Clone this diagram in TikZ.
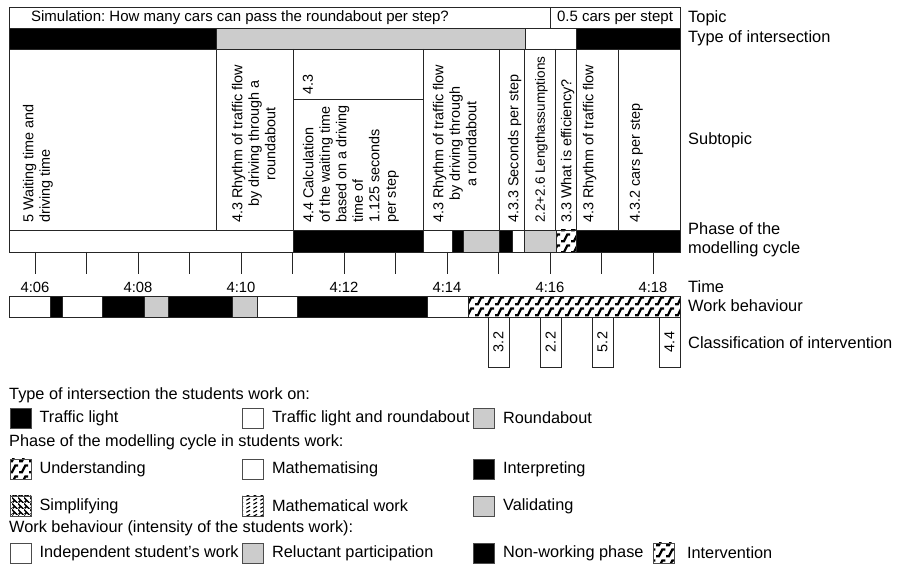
\documentclass[tikz,border=0pt]{standalone}
\usepackage{fontspec}
\setmainfont{Liberation Sans}
\usepackage{tikz}
\usetikzlibrary{patterns, positioning}
\frenchspacing

% hatch patterns used in the chart and the legend
\pgfdeclarepatternformonly{interv}{\pgfqpoint{0pt}{0pt}}{\pgfqpoint{9.5pt}{10.5pt}}{\pgfqpoint{9.5pt}{10.5pt}}{%
  \pgfsetlinewidth{2.3pt}
  \pgfpathmoveto{\pgfqpoint{0pt}{1.8pt}}
  \pgfpathlineto{\pgfqpoint{3pt}{1.8pt}}
  \pgfpathlineto{\pgfqpoint{6.5pt}{8.7pt}}
  \pgfpathlineto{\pgfqpoint{9.5pt}{8.7pt}}
  \pgfusepath{stroke}}
\pgfdeclarepatternformonly{simpl}{\pgfqpoint{0pt}{0pt}}{\pgfqpoint{6pt}{6pt}}{\pgfqpoint{6pt}{6pt}}{%
  \pgfsetlinewidth{1.6pt}
  \pgfpathmoveto{\pgfqpoint{0pt}{6pt}}
  \pgfpathlineto{\pgfqpoint{6pt}{0pt}}
  \pgfpathmoveto{\pgfqpoint{0.8pt}{0.8pt}}
  \pgfpathlineto{\pgfqpoint{2.4pt}{2.4pt}}
  \pgfusepath{stroke}}
\pgfdeclarepatternformonly{mwork}{\pgfqpoint{0pt}{0pt}}{\pgfqpoint{7pt}{4pt}}{\pgfqpoint{7pt}{4pt}}{%
  \pgfsetlinewidth{1.3pt}
  \pgfpathmoveto{\pgfqpoint{1.5pt}{0.8pt}}
  \pgfpathlineto{\pgfqpoint{5.5pt}{3.2pt}}
  \pgfusepath{stroke}}

\begin{document}
\begin{tikzpicture}[
    x=1pt, y=-1pt,
    cell/.style={draw=black!85, line width=0.8pt},
    blk/.style={cell, fill=black},
    gry/.style={cell, fill=gray!40},
    wht/.style={cell, fill=white},
    hat/.style={cell, pattern=interv},
    vtxt/.style={rotate=90, anchor=north west, inner sep=0pt, font=\fontsize{14.4}{16.5}\selectfont},
    htxt/.style={inner sep=0pt, font=\fontsize{15}{17}\selectfont},
    tlbl/.style={inner sep=0pt, font=\fontsize{14.8}{16}\selectfont},
    rlbl/.style={anchor=west, align=left, inner sep=0pt, font=\fontsize{16.4}{18.5}\selectfont},
    ibox/.style={cell, fill=white, rotate=90, minimum width=50pt, minimum height=21pt, inner sep=0pt, font=\fontsize{14.4}{16}\selectfont},
    sq/.style={draw=black!70, line width=0.8pt, minimum width=21pt, minimum height=20pt, inner sep=0pt},
    ltxt/.style={anchor=west, inner sep=0pt, font=\fontsize{16.3}{18}\selectfont}
]
\useasboundingbox (0,0) rectangle (898,569);

% --- Topic ---
\draw[cell] (9,7) rectangle (680,28);
\draw[cell] (550,7) -- (550,28);
\node[htxt] (topic) at (240,18) {Simulation: How many cars can pass the roundabout per step?};
\node[htxt] (carsstep) at (615,18) {0.5 cars per stept};

% --- Type of intersection ---
\foreach \xa/\xb/\st in {9/216/blk, 216/525/gry, 525/576/wht, 576/680/blk}
  \draw[\st] (\xa,28) rectangle (\xb,49);

% --- Subtopics ---
\draw[cell] (9,49) rectangle (680,230);
\foreach \x in {216,293,423,499,524,555,576,618}
  \draw[cell] (\x,49) -- (\x,230);
\draw[cell] (293,99) -- (423,99);

\node[vtxt, align=left] (waiting) at (22.7,223) {5 Waiting time and\\driving time};
\node[vtxt, align=center] (rhythma) at (231.7,223) {4.3 Rhythm of traffic flow\\by driving through a\\roundabout};
\node[vtxt] (sub43) at (302.7,95) {4.3};
\node[vtxt, align=left] (calc) at (302.7,223) {4.4 Calculation\\of the waiting time\\based on a driving\\time of\\1.125 seconds\\per step};
\node[vtxt, align=center] (rhythmb) at (432.7,223) {4.3 Rhythm of traffic flow\\by driving through\\a roundabout};
\node[vtxt] (seconds) at (507.7,223) {4.3.3 Seconds per step};
\node[vtxt, font=\fontsize{13.5}{16}\selectfont] (length) at (535,223) {2.2+2.6 Lengthassumptions};
\node[vtxt] (effic) at (560.7,223) {3.3 What is efficiency?};
\node[vtxt] (rhythmc) at (582.7,223) {4.3 Rhythm of traffic flow};
\node[vtxt] (cars) at (629.7,223) {4.3.2 cars per step};

% --- Phase of the modelling cycle ---
\foreach \xa/\xb/\st in {9/293/wht, 293/423/blk, 423/452/wht, 452/463/blk, 463/499/gry,
    499/512/blk, 512/524/wht, 524/556/gry, 556/576/hat, 576/680/blk}
  \draw[\st] (\xa,230) rectangle (\xb,252);

% --- Time axis ---
\foreach \k in {0,...,12}
  \draw[cell] ({35+51.5*\k},252) -- ({35+51.5*\k},274);
\foreach \k/\tm in {0/06, 2/08, 4/10, 6/12, 8/14, 10/16, 12/18}
  \node[tlbl] (time\tm) at ({35+51.5*\k},287) {4:\tm};

% --- Work behaviour ---
\foreach \xa/\xb/\st in {9/50/wht, 50/62/blk, 62/102/wht, 102/144/blk, 144/168/gry, 168/232/blk,
    232/257/gry, 257/297/wht, 297/427/blk, 427/468/wht, 468/680/hat}
  \draw[\st] (\xa,296) rectangle (\xb,317);

% --- Interventions ---
\node[ibox] (int32) at (498.5,342) {3.2};
\node[ibox] (int22) at (550.5,342) {2.2};
\node[ibox] (int52) at (602.5,342) {5.2};
\node[ibox] (int44) at (669.5,342) {4.4};

% --- Row labels (right) ---
\node[rlbl] (ltopic) at (688,18) {Topic};
\node[rlbl] (ltype) at (688,38) {Type of intersection};
\node[rlbl] (lsub) at (688,140) {Subtopic};
\node[rlbl] (lphase) at (688,240) {Phase of the\\modelling cycle};
\node[rlbl] (ltime) at (688,287) {Time};
\node[rlbl] (lwork) at (688,306) {Work behaviour};
\node[rlbl] (lclass) at (688,343) {Classification of intervention};

% --- Legend ---
\node[ltxt] (hinter) at (9,395) {Type of intersection the students work on:};
\node[sq, fill=black] (sqlight) at (20.5,418) {};
\node[ltxt, right=8pt of sqlight] (tlight) {Traffic light};
\node[sq, fill=white] (sqboth) at (253,418) {};
\node[ltxt, right=8pt of sqboth] (tboth) {Traffic light and roundabout};
\node[sq, fill=gray!40] (sqround) at (484,418) {};
\node[ltxt, right=8pt of sqround] (tround) {Roundabout};

\node[ltxt] (hphase) at (9,442) {Phase of the modelling cycle in students work:};
\node[sq, pattern=interv] (squnder) at (20.5,469) {};
\node[ltxt, right=8pt of squnder] (tunder) {Understanding};
\node[sq, fill=white] (sqmath) at (253,469) {};
\node[ltxt, right=8pt of sqmath] (tmath) {Mathematising};
\node[sq, fill=black] (sqinterp) at (484,469) {};
\node[ltxt, right=8pt of sqinterp] (tinterp) {Interpreting};
\node[sq, pattern=simpl] (sqsimpl) at (20.5,506) {};
\node[ltxt, right=8pt of sqsimpl] (tsimpl) {Simplifying};
\node[sq, pattern=mwork] (sqmwork) at (253,506) {};
\node[ltxt, right=8pt of sqmwork] (tmwork) {Mathematical work};
\node[sq, fill=gray!40] (sqvalid) at (484,506) {};
\node[ltxt, right=8pt of sqvalid] (tvalid) {Validating};

\node[ltxt] (hwork) at (9,528) {Work behaviour (intensity of the students work):};
\node[sq, fill=white] (sqindep) at (20.5,553) {};
\node[ltxt, right=8pt of sqindep] (tindep) {Independent student's work};
\node[sq, fill=gray!40] (sqrelu) at (253,553) {};
\node[ltxt, right=8pt of sqrelu] (trelu) {Reluctant participation};
\node[sq, fill=black] (sqnonw) at (484,553) {};
\node[ltxt, right=8pt of sqnonw] (tnonw) {Non-working phase};
\node[sq, pattern=interv] (sqinterv) at (664,553) {};
\node[ltxt, right=12pt of sqinterv] (tinterv) {Intervention};

\end{tikzpicture}
\end{document}
